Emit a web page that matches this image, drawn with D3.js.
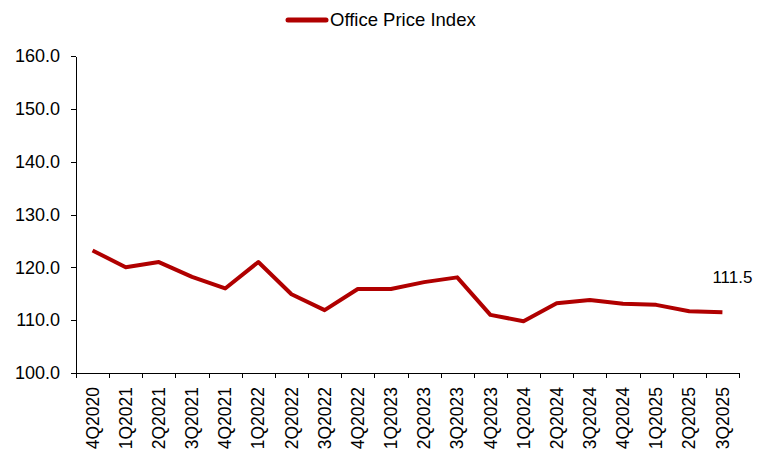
<!DOCTYPE html>
<html>
<head>
<meta charset="utf-8">
<script src="https://cdn.jsdelivr.net/npm/d3@7"></script>
<style>
  body { margin: 0; background: #fff; }
  svg { display: block; font-family: "Liberation Sans", Arial, sans-serif; }
  .axis path, .axis line { stroke: #000; stroke-width: 1; shape-rendering: crispEdges; }
  .axis text { fill: #000; font-size: 17.5px; }
  .y.axis text { font-size: 18px; }
</style>
</head>
<body>
<div id="chart-area"></div>
<script>
const quarters = ["4Q2020", "1Q2021", "2Q2021", "3Q2021", "4Q2021", "1Q2022", "2Q2022",
  "3Q2022", "4Q2022", "1Q2023", "2Q2023", "3Q2023", "4Q2023", "1Q2024", "2Q2024",
  "3Q2024", "4Q2024", "1Q2025", "2Q2025", "3Q2025"];
const officePriceIndex = [123.2, 120.0, 121.0, 118.2, 116.0, 121.0, 114.9, 111.9, 115.9, 115.9,
  117.2, 118.1, 111.0, 109.8, 113.2, 113.8, 113.1, 112.9, 111.7, 111.5];
const yTicks = [100, 110, 120, 130, 140, 150, 160];
const seriesName = "Office Price Index";

const WIDTH = 766, HEIGHT = 460;
const MARGINS = { top: 56, right: 27, left: 76, bottom: 87 };
const CHART_WIDTH = WIDTH - MARGINS.left - MARGINS.right;
const CHART_HEIGHT = HEIGHT - MARGINS.top - MARGINS.bottom;
const LINE_COLOR = "#b00000";

const svg = d3.select("#chart-area")
  .append("svg")
  .attr("width", WIDTH)
  .attr("height", HEIGHT);

const g = svg.append("g")
  .attr("transform", `translate(${MARGINS.left}, ${MARGINS.top})`);

const xScale = d3.scaleBand().domain(quarters).range([0, CHART_WIDTH]);
// boundaries between quarters, for the tick marks
const xEdges = d3.scaleLinear().domain([0, quarters.length]).range([0, CHART_WIDTH]);
const yScale = d3.scaleLinear().domain([100, 160]).range([CHART_HEIGHT, 0]);

// y axis
g.append("g").attr("class", "y axis")
  .call(d3.axisLeft(yScale).tickValues(yTicks).tickSize(5).tickSizeOuter(0)
    .tickPadding(11).tickFormat(d3.format(".1f")));

// x axis: tick marks on the edges
g.append("g").attr("class", "x axis")
  .attr("transform", `translate(0, ${CHART_HEIGHT})`)
  .call(d3.axisBottom(xEdges).tickValues(d3.range(quarters.length + 1))
    .tickSize(5).tickSizeOuter(0).tickFormat(""));

// x axis: rotated labels centred on each quarter
g.append("g").attr("class", "x axis labels")
  .attr("transform", `translate(0, ${CHART_HEIGHT})`)
  .call(d3.axisBottom(xScale).tickSize(0).tickSizeOuter(0))
  .call(s => s.select(".domain").remove())
  .selectAll("text")
  .attr("transform", "rotate(-90)")
  .attr("text-anchor", "end")
  .attr("x", -14)
  .attr("y", 0)
  .attr("dy", "0.35em");

const line = d3.line()
  .x((d, i) => xScale(quarters[i]) + xScale.bandwidth() / 2)
  .y(d => yScale(d));

g.append("path")
  .datum(officePriceIndex)
  .attr("fill", "none")
  .attr("stroke", LINE_COLOR)
  .attr("stroke-width", 4)
  .attr("stroke-linejoin", "round")
  .attr("d", line);

// label on the last point
const lastIdx = officePriceIndex.length - 1;
g.append("text")
  .attr("x", xScale(quarters[lastIdx]) + xScale.bandwidth() / 2 - 10)
  .attr("y", yScale(officePriceIndex[lastIdx]) - 29)
  .attr("font-size", "17px")
  .attr("fill", "#000")
  .text(d3.format(".1f")(officePriceIndex[lastIdx]));

// legend
const legend = svg.append("g").attr("transform", "translate(288, 20)");
legend.append("line")
  .attr("x1", 0).attr("x2", 38)
  .attr("stroke", LINE_COLOR)
  .attr("stroke-width", 5)
  .attr("stroke-linecap", "round");
legend.append("text")
  .attr("x", 42)
  .attr("dy", "0.35em")
  .attr("font-size", "18.5px")
  .attr("fill", "#000")
  .text(seriesName);
</script>
</body>
</html>
